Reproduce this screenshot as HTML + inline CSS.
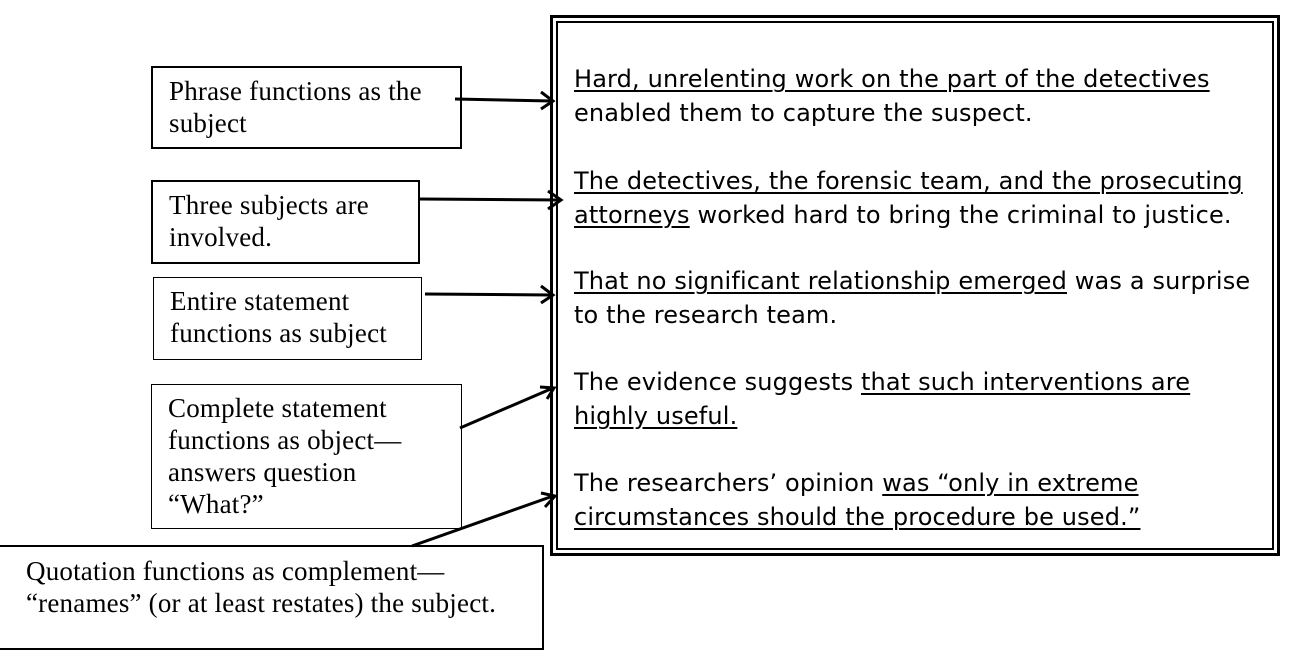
<!DOCTYPE html>
<html><head><meta charset="utf-8"><style>
body{margin:0;width:1289px;height:666px;background:#fff;position:relative;overflow:hidden}
.b{position:absolute;border:2px solid #000;box-sizing:border-box;font-family:"Liberation Serif",serif;font-size:27px;line-height:32px;color:#000;padding:7px 0 0 16px;white-space:nowrap;letter-spacing:0.2px}
.r{position:absolute;left:574px;font-family:"DejaVu Sans",sans-serif;font-size:24px;line-height:34px;color:#000;letter-spacing:0.15px;white-space:nowrap}
u{text-decoration-thickness:1.5px;text-underline-offset:3px}
</style></head><body>
<div style="position:absolute;left:550px;top:15px;width:730px;height:541px;border:3px solid #000;box-sizing:border-box"></div>
<div style="position:absolute;left:556px;top:21px;width:718px;height:529px;border:2px solid #000;box-sizing:border-box"></div>
<div class="b" style="left:151px;top:66px;width:311px;height:83px">Phrase functions as the<br>subject</div>
<div class="b" style="left:151px;top:180px;width:269px;height:84px">Three subjects are<br>involved.</div>
<div class="b" style="left:153px;top:277px;width:269px;height:83px;border-width:1px">Entire statement<br>functions as subject</div>
<div class="b" style="left:151px;top:384px;width:311px;height:145px;border-width:1.5px">Complete statement<br>functions as object—<br>answers question<br>“What?”</div>
<div class="b" style="left:-10px;top:545px;width:554px;height:105px;padding:8px 0 0 34px">Quotation functions as complement—<br>“renames” (or at least restates) the subject.</div>
<div class="r" style="top:62px"><u>Hard, unrelenting work on the part of the detectives</u><br>enabled them to capture the suspect.</div>
<div class="r" style="top:164px"><u>The detectives, the forensic team, and the prosecuting</u><br><u>attorneys</u> worked hard to bring the criminal to justice.</div>
<div class="r" style="top:264px"><u>That no significant relationship emerged</u> was a surprise<br>to the research team.</div>
<div class="r" style="top:365px">The evidence suggests <u>that such interventions are</u><br><u>highly useful.</u></div>
<div class="r" style="top:466px">The researchers’ opinion <u>was “only in extreme</u><br><u>circumstances should the procedure be used.”</u></div>
<svg width="1289" height="666" style="position:absolute;left:0;top:0" fill="none" stroke="#000" stroke-width="3">
<path d="M455 99 L552 101 M541 92 L553 101 L541 109"/>
<path d="M420 199 L560 200 M548 191 L561 200 L548 209"/>
<path d="M425 294 L552 295 M541 286 L553 295 L541 303"/>
<path d="M460 428 L553 388 M540 387 L554 388 L547 399"/>
<path d="M412 546 L553 496 M541 493 L555 496 L545 507"/>
</svg>
</body></html>
